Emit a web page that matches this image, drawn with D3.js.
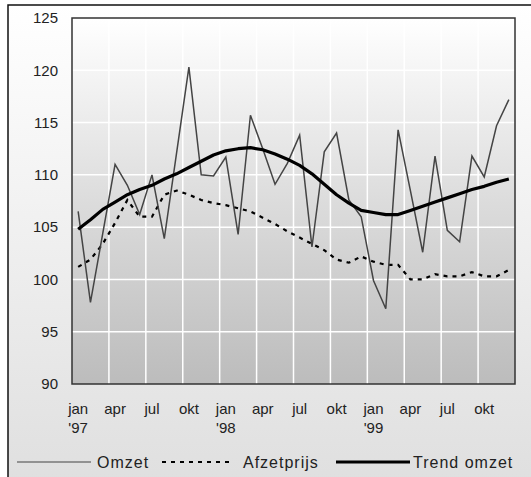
<!DOCTYPE html>
<html>
<head>
<meta charset="utf-8">
<script src="https://cdn.jsdelivr.net/npm/d3@7"></script>
<style>
  body { margin: 0; background: #fff; }
  text { font-family: "Liberation Sans", Arial, sans-serif; fill: #222; }
</style>
</head>
<body>
<div class="chart"></div>
<script>
// Omzet, afzetprijs en trend, jan '97 - dec '99

const WIDTH = 531;
const HEIGHT = 477;
const PLOT = { left: 72, top: 18, right: 515, bottom: 384 };

const months = [
  'jan97', 'feb97', 'mrt97', 'apr97', 'mei97', 'jun97', 'jul97', 'aug97', 'sep97', 'okt97', 'nov97', 'dec97',
  'jan98', 'feb98', 'mrt98', 'apr98', 'mei98', 'jun98', 'jul98', 'aug98', 'sep98', 'okt98', 'nov98', 'dec98',
  'jan99', 'feb99', 'mrt99', 'apr99', 'mei99', 'jun99', 'jul99', 'aug99', 'sep99', 'okt99', 'nov99', 'dec99'
];

// labels shown on the x axis (every third month), year under january
const tickMonths = ['jan97', 'apr97', 'jul97', 'okt97', 'jan98', 'apr98', 'jul98', 'okt98', 'jan99', 'apr99', 'jul99', 'okt99'];
const tickNames = ['jan', 'apr', 'jul', 'okt', 'jan', 'apr', 'jul', 'okt', 'jan', 'apr', 'jul', 'okt'];
const tickYears = ["'97", '', '', '', "'98", '', '', '', "'99", '', '', ''];

const yTicks = [90, 95, 100, 105, 110, 115, 120, 125];

const omzet = [
  106.5, 97.8, 104.4, 111.0, 109.0, 106.2, 110.0, 103.9, 112.1, 120.3, 110.0, 109.9,
  111.7, 104.3, 115.7, 112.5, 109.1, 111.1, 113.8, 103.1, 112.2, 114.0, 107.6, 106.0,
  99.9, 97.2, 114.3, 108.5, 102.6, 111.8, 104.7, 103.6, 111.8, 109.8, 114.7, 117.2
];

const afzetprijs = [
  101.2, 101.9, 103.4, 105.4, 107.6, 106.0, 106.0, 108.1, 108.5, 108.1, 107.6, 107.3,
  107.1, 106.8, 106.5, 105.9, 105.3, 104.6, 104.0, 103.4, 102.8, 101.9, 101.6, 102.2,
  101.7, 101.4, 101.4, 100.0, 100.0, 100.5, 100.3, 100.3, 100.7, 100.3, 100.3, 100.9
];

const trendOmzet = [
  104.8, 105.7, 106.7, 107.4, 108.1, 108.6, 109.0, 109.6, 110.1, 110.7, 111.3, 111.9,
  112.3, 112.5, 112.6, 112.4, 112.0, 111.5, 110.9, 110.1, 109.1, 108.1, 107.3, 106.6,
  106.4, 106.2, 106.2, 106.6, 107.0, 107.4, 107.8, 108.2, 108.6, 108.9, 109.3, 109.6
];

const svg = d3.select('.chart')
  .append('svg')
  .attr('width', WIDTH)
  .attr('height', HEIGHT);

const defs = svg.append('defs');

const outerGrad = defs.append('linearGradient')
  .attr('id', 'outer-grad')
  .attr('x1', 0).attr('y1', 0).attr('x2', 0).attr('y2', 1);
outerGrad.append('stop').attr('offset', '0%').attr('stop-color', '#ffffff');
outerGrad.append('stop').attr('offset', '100%').attr('stop-color', '#dedede');

const plotGrad = defs.append('linearGradient')
  .attr('id', 'plot-grad')
  .attr('x1', 0).attr('y1', 0).attr('x2', 0).attr('y2', 1);
plotGrad.append('stop').attr('offset', '0%').attr('stop-color', '#ffffff');
plotGrad.append('stop').attr('offset', '50%').attr('stop-color', '#dcdcdc');
plotGrad.append('stop').attr('offset', '100%').attr('stop-color', '#bcbcbc');

// Outer background and frame (runs off the right and bottom edges)
svg.append('rect')
  .attr('x', 8)
  .attr('y', 5)
  .attr('width', WIDTH + 20)
  .attr('height', HEIGHT + 20)
  .attr('fill', 'url(#outer-grad)')
  .attr('stroke', '#111')
  .attr('stroke-width', 1.5);

const x = d3.scaleBand()
  .domain(months)
  .range([PLOT.left, PLOT.right])
  .padding(0);

const y = d3.scaleLinear()
  .domain([90, 125])
  .range([PLOT.bottom, PLOT.top]);

const cx = m => x(m) + x.bandwidth() / 2;

// Plot area
svg.append('rect')
  .attr('x', PLOT.left)
  .attr('y', PLOT.top)
  .attr('width', PLOT.right - PLOT.left)
  .attr('height', PLOT.bottom - PLOT.top)
  .attr('fill', 'url(#plot-grad)');

// Grid
const grid = svg.append('g').attr('class', 'grid');
grid.selectAll('.hgrid')
  .data(yTicks.slice(1, -1))
  .enter()
  .append('line')
  .attr('x1', PLOT.left)
  .attr('x2', PLOT.right)
  .attr('y1', d => y(d))
  .attr('y2', d => y(d))
  .attr('stroke', '#fff')
  .attr('stroke-width', 1.5);

grid.selectAll('.vgrid')
  .data(tickMonths.slice(1))
  .enter()
  .append('line')
  .attr('x1', d => x(d))
  .attr('x2', d => x(d))
  .attr('y1', PLOT.top)
  .attr('y2', PLOT.bottom)
  .attr('stroke', '#fff')
  .attr('stroke-width', 1.5);

// Y axis labels
const yAxis = svg.append('g')
  .attr('transform', `translate(${PLOT.left}, 0)`)
  .call(d3.axisLeft(y).tickValues(yTicks).tickSize(0).tickPadding(14).tickFormat(d3.format('d')));
yAxis.select('.domain').remove();
yAxis.selectAll('text')
  .style('font-family', '"Liberation Sans", Arial, sans-serif')
  .style('font-size', '15px')
  .attr('fill', '#222');

// X axis labels
const xAxis = svg.append('g')
  .attr('transform', `translate(0, ${PLOT.bottom})`)
  .call(d3.axisBottom(x).tickValues(tickMonths).tickSize(0).tickFormat(''));
xAxis.select('.domain').remove();
xAxis.selectAll('.tick').each(function(d) {
  const i = tickMonths.indexOf(d);
  const t = d3.select(this).select('text')
    .attr('y', 0)
    .attr('dy', null)
    .style('font-family', '"Liberation Sans", Arial, sans-serif')
    .style('font-size', '15px')
    .attr('fill', '#222');
  t.append('tspan').attr('x', 0).attr('y', 30).text(tickNames[i]);
  if (tickYears[i]) {
    t.append('tspan').attr('x', 0).attr('y', 49).text(tickYears[i]);
  }
});

// Series
const line = d3.line()
  .x((d, i) => cx(months[i]))
  .y(d => y(d));

svg.append('path')
  .datum(afzetprijs)
  .attr('d', line)
  .attr('fill', 'none')
  .attr('stroke', '#000')
  .attr('stroke-width', 2.2)
  .attr('stroke-dasharray', '4,5');

svg.append('path')
  .datum(omzet)
  .attr('d', line)
  .attr('fill', 'none')
  .attr('stroke', '#444')
  .attr('stroke-width', 1.5)
  .attr('stroke-linejoin', 'miter');

svg.append('path')
  .datum(trendOmzet)
  .attr('d', line)
  .attr('fill', 'none')
  .attr('stroke', '#000')
  .attr('stroke-width', 3.2)
  .attr('stroke-linejoin', 'round');

// Plot border
svg.append('rect')
  .attr('x', PLOT.left)
  .attr('y', PLOT.top)
  .attr('width', PLOT.right - PLOT.left)
  .attr('height', PLOT.bottom - PLOT.top)
  .attr('fill', 'none')
  .attr('stroke', '#333')
  .attr('stroke-width', 1.5);

// Legend
const legendItems = [
  { name: 'Omzet', x1: 17, x2: 91, textX: 97, width: 1.2, dash: null, color: '#444' },
  { name: 'Afzetprijs', x1: 162, x2: 229, textX: 243, width: 1.8, dash: '4,5', color: '#000' },
  { name: 'Trend omzet', x1: 336, x2: 410, textX: 413, width: 3.2, dash: null, color: '#000' }
];
const LEGEND_Y = 462;

const legend = svg.append('g').attr('class', 'legend');
legend.selectAll('line')
  .data(legendItems)
  .enter()
  .append('line')
  .attr('x1', d => d.x1)
  .attr('x2', d => d.x2)
  .attr('y1', LEGEND_Y)
  .attr('y2', LEGEND_Y)
  .attr('stroke', d => d.color)
  .attr('stroke-width', d => d.width)
  .attr('stroke-dasharray', d => d.dash);

legend.selectAll('text')
  .data(legendItems)
  .enter()
  .append('text')
  .attr('x', d => d.textX)
  .attr('y', LEGEND_Y + 6)
  .style('font-size', '16px')
  .style('letter-spacing', '1px')
  .text(d => d.name);
</script>
</body>
</html>
